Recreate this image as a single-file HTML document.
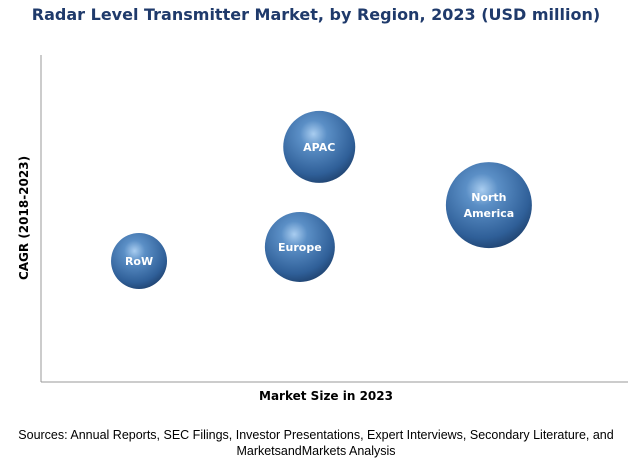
<!DOCTYPE html>
<html><head><meta charset="utf-8"><style>
body{margin:0;width:631px;height:461px;background:#fff;overflow:hidden;font-family:"Liberation Sans",sans-serif}
</style></head><body>
<svg width="631" height="461" xmlns="http://www.w3.org/2000/svg">
<defs>
<radialGradient id="g" cx="0.42" cy="0.32" r="0.75">
<stop offset="0" stop-color="#a9cdf0"/>
<stop offset="0.25" stop-color="#5b8fc6"/>
<stop offset="0.75" stop-color="#2f5f98"/>
<stop offset="1" stop-color="#1c3c66"/>
</radialGradient>
</defs>
<text x="316" y="20" text-anchor="middle" font-family="'DejaVu Sans',sans-serif" font-weight="bold" font-size="16" fill="#1f3a6b">Radar Level Transmitter Market, by Region, 2023 (USD million)</text>
<line x1="41" y1="55" x2="41" y2="382" stroke="#999"/>
<line x1="41" y1="382" x2="628" y2="382" stroke="#999"/>
<text transform="translate(28,218) rotate(-90)" text-anchor="middle" font-family="'DejaVu Sans',sans-serif" font-weight="bold" font-size="12" fill="#000">CAGR (2018-2023)</text>
<text x="326" y="400" text-anchor="middle" font-family="'DejaVu Sans',sans-serif" font-weight="bold" font-size="12" fill="#000">Market Size in 2023</text>
<text x="316" y="439" text-anchor="middle" font-size="12.5" fill="#000">Sources: Annual Reports, SEC Filings, Investor Presentations, Expert Interviews, Secondary Literature, and</text>
<text x="316" y="455" text-anchor="middle" font-size="12.5" fill="#000">MarketsandMarkets Analysis</text>
<g id="bubbles"></g>
</svg>
<script>
const regions=["RoW","Europe","APAC","North America"];
const marketSize=[16.7,44.1,47.4,76.3];
const cagr=[37.0,41.3,71.9,54.1];
const bubbleSize=[28,35,36,43];
const xs=v=>41+v/100*587, ys=v=>382-v/100*327, rs=v=>v;
const ns="http://www.w3.org/2000/svg", g=document.getElementById("bubbles");
regions.forEach((r,i)=>{
 const cx=xs(marketSize[i]), cy=ys(cagr[i]), rad=rs(bubbleSize[i]);
 const c=document.createElementNS(ns,"circle");
 c.setAttribute("cx",cx);c.setAttribute("cy",cy);c.setAttribute("r",rad);c.setAttribute("fill","url(#g)");
 
 
 g.appendChild(c);
 const words=r.split(" ");
 words.forEach((w,j)=>{
  const t=document.createElementNS(ns,"text");
  t.setAttribute("x",cx);t.setAttribute("y",cy+4+(j-(words.length-1)/2)*16);
  t.setAttribute("text-anchor","middle");t.setAttribute("font-weight","bold");t.setAttribute("font-size","11");
  t.setAttribute("font-family","'DejaVu Sans',sans-serif");t.setAttribute("fill","#fff");
  t.textContent=w;
  
  
  g.appendChild(t);
 });
});
</script>
</body></html>
